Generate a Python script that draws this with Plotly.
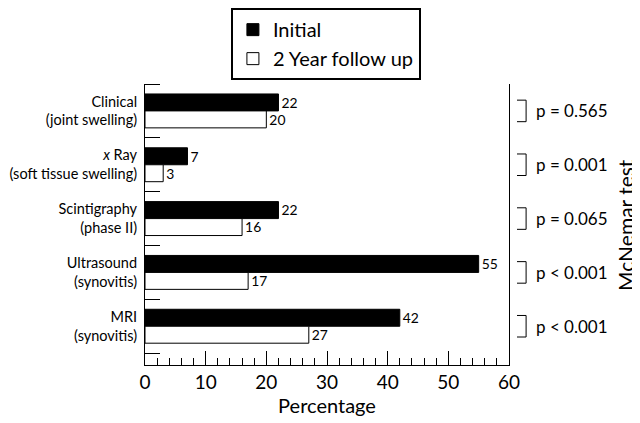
import plotly.graph_objects as go

categories = ["Clinical<br>(joint swelling)", "<i>x</i> Ray<br>(soft tissue swelling)",
              "Scintigraphy<br>(phase II)", "Ultrasound<br>(synovitis)", "MRI<br>(synovitis)"]
initial = [22, 7, 22, 55, 42]
followup = [20, 3, 16, 17, 27]
p_values = ["p = 0.565", "p = 0.001", "p = 0.065", "p < 0.001", "p < 0.001"]

font = "Lato, 'Noto Sans', sans-serif"
pos = list(range(len(categories)))

fig = go.Figure()
fig.add_trace(go.Bar(y=pos, x=initial, orientation="h", name="Initial",
                     marker=dict(color="black", line=dict(color="black", width=1)),
                     text=initial, textposition="outside", cliponaxis=False,
                     textfont=dict(size=18, color="black")))
fig.add_trace(go.Bar(y=pos, x=followup, orientation="h", name="2 Year follow up",
                     marker=dict(color="white", line=dict(color="black", width=1)),
                     text=followup, textposition="outside", cliponaxis=False,
                     textfont=dict(size=18, color="black")))

# brackets and p values on the right
for i, p in enumerate(p_values):
    fig.add_shape(type="path", xref="paper", yref="y",
                  path=f"M 1.022 {i - 0.2} L 1.047 {i - 0.2} L 1.047 {i + 0.2} L 1.022 {i + 0.2}",
                  line=dict(color="black", width=1))
    fig.add_annotation(x=1.068, y=i, xref="paper", yref="y", text=p, showarrow=False,
                       xanchor="left", font=dict(size=17, color="black", family=font))

fig.add_annotation(x=1.32, y=0.5, xref="paper", yref="paper", text="McNemar test",
                   textangle=-90, showarrow=False, xanchor="center", yanchor="middle",
                   font=dict(size=21, color="black", family=font))

# the page body adds an 8px offset, so the figure is 8px smaller
fig.update_layout(
    width=632, height=415,
    margin=dict(l=137, r=131, t=76, b=58, autoexpand=False),
    paper_bgcolor="white", plot_bgcolor="white",
    font=dict(family=font, color="black"),
    barmode="group", bargap=0.37, bargroupgap=0,
    showlegend=True,
    legend=dict(x=0.497, y=1.27, xanchor="center", yanchor="top",
                bordercolor="black", borderwidth=2, font=dict(size=20),
                bgcolor="white", tracegroupgap=0, itemwidth=30),
    xaxis=dict(range=[0, 60], tick0=0, dtick=10, showgrid=False, zeroline=False,
               automargin=False,
               showline=True, linecolor="black", linewidth=1,
               ticks="inside", ticklen=14, tickcolor="black", tickwidth=1,
               tickfont=dict(size=19),
               minor=dict(dtick=2, tick0=0, ticks="inside", ticklen=7,
                          tickcolor="black", tickwidth=1),
               title=dict(text="Percentage", font=dict(size=20), standoff=4)),
    yaxis=dict(range=[4.72, -0.5], tickmode="array", tickvals=pos, ticktext=categories,
               ticks="", showgrid=False, zeroline=False, automargin=False,
               showline=True, linecolor="black", linewidth=1, mirror=True,
               tickfont=dict(size=14.5), ticklabelstandoff=4,
               minor=dict(tick0=0.5, dtick=1, ticks="inside", ticklen=15,
                          tickcolor="black", tickwidth=1, showgrid=False)),
)

fig.write_html("out.html")
